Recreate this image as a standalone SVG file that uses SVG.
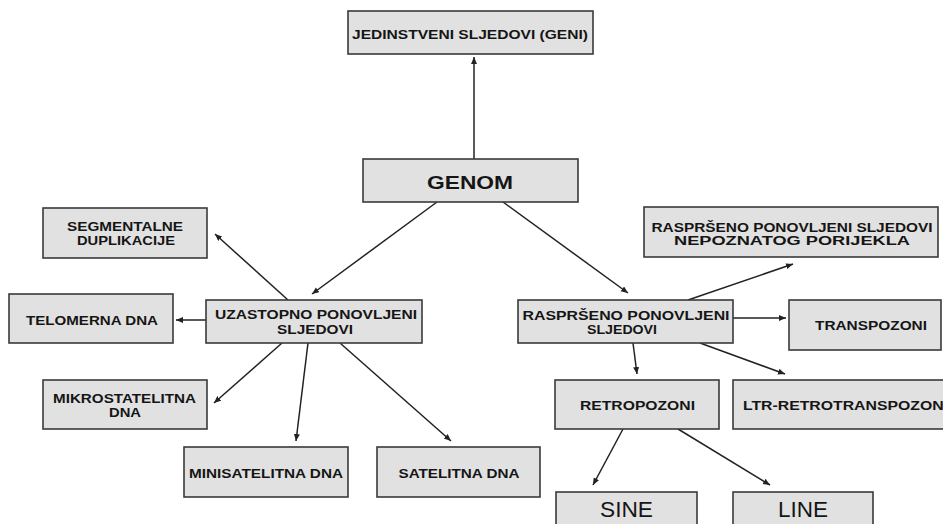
<svg xmlns="http://www.w3.org/2000/svg" width="943" height="524" viewBox="0 0 943 524">
<style>
.box{fill:#e1e1e1;stroke:#3a3a3a;stroke-width:1.6}
.t{font-family:"Liberation Sans",Arial,sans-serif;font-size:12px;font-weight:bold;fill:#151515;text-anchor:middle}
.big{font-family:"Liberation Sans",Arial,sans-serif;font-size:18px;font-weight:bold;fill:#151515;text-anchor:middle}
.huge{font-family:"Liberation Sans",Arial,sans-serif;font-size:22px;fill:#151515;text-anchor:middle}
.c line{stroke:#222;stroke-width:1.5;marker-end:url(#ah)}
</style>
<defs>
<marker id="ah" markerUnits="userSpaceOnUse" markerWidth="8" markerHeight="7" refX="7" refY="3" orient="auto">
<path d="M0,0 L7,3 L0,6 z" fill="#222"/>
</marker>
</defs>
<rect width="943" height="524" fill="#fff"/>
<g class="c" id="connectors">
<line x1="474" y1="159" x2="474" y2="57"/>
<line x1="437" y1="202" x2="312" y2="294"/>
<line x1="503" y1="202" x2="628" y2="293"/>
<line x1="288" y1="300" x2="215" y2="234"/>
<line x1="206" y1="320" x2="176" y2="320"/>
<line x1="282" y1="343" x2="214" y2="403"/>
<line x1="308" y1="343" x2="296" y2="441"/>
<line x1="340" y1="343" x2="451" y2="441"/>
<line x1="688" y1="300" x2="793" y2="264"/>
<line x1="733" y1="318" x2="786" y2="318"/>
<line x1="633" y1="343" x2="637" y2="374"/>
<line x1="700" y1="343" x2="785" y2="374"/>
<line x1="623" y1="429" x2="593" y2="485"/>
<line x1="678" y1="429" x2="770" y2="485"/>
</g>
<g id="jedinstveni"><rect class="box" x="348" y="11" width="245" height="43"/><text class="t" x="470" y="38.5" textLength="236" lengthAdjust="spacingAndGlyphs">JEDINSTVENI SLJEDOVI (GENI)</text></g>
<g id="genom"><rect class="box" x="363" y="159" width="215" height="43"/><text class="big" x="470" y="188.5" textLength="86" lengthAdjust="spacingAndGlyphs">GENOM</text></g>
<g id="segmentalne"><rect class="box" x="43" y="208" width="164" height="50"/><text class="t" x="125" y="231" textLength="116" lengthAdjust="spacingAndGlyphs">SEGMENTALNE</text><text class="t" x="126" y="245" textLength="98" lengthAdjust="spacingAndGlyphs">DUPLIKACIJE</text></g>
<g id="telomerna"><rect class="box" x="9" y="294" width="164" height="49"/><text class="t" x="92" y="325" textLength="132" lengthAdjust="spacingAndGlyphs">TELOMERNA DNA</text></g>
<g id="uzastopno"><rect class="box" x="206" y="300" width="216" height="43"/><text class="t" x="316" y="319" textLength="202" lengthAdjust="spacingAndGlyphs">UZASTOPNO PONOVLJENI</text><text class="t" x="315" y="334" textLength="76" lengthAdjust="spacingAndGlyphs">SLJEDOVI</text></g>
<g id="rasprseno"><rect class="box" x="518" y="300" width="215" height="43"/><text class="t" x="626" y="320" textLength="207" lengthAdjust="spacingAndGlyphs">RASPRŠENO PONOVLJENI</text><text class="t" x="622" y="334" textLength="70" lengthAdjust="spacingAndGlyphs">SLJEDOVI</text></g>
<g id="nepoznatog"><rect class="box" x="644" y="207" width="294" height="50"/><text class="t" x="792" y="232" textLength="281" lengthAdjust="spacingAndGlyphs">RASPRŠENO PONOVLJENI SLJEDOVI</text><text class="t" x="792" y="245" textLength="236" lengthAdjust="spacingAndGlyphs">NEPOZNATOG PORIJEKLA</text></g>
<g id="transpozoni"><rect class="box" x="789" y="300" width="152" height="50"/><text class="t" x="871" y="330" textLength="112" lengthAdjust="spacingAndGlyphs">TRANSPOZONI</text></g>
<g id="retropozoni"><rect class="box" x="555" y="380" width="164" height="49"/><text class="t" x="637.5" y="410" textLength="115" lengthAdjust="spacingAndGlyphs">RETROPOZONI</text></g>
<g id="ltr"><rect class="box" x="733" y="380" width="220" height="49"/><text class="t" x="845.5" y="410" textLength="205" lengthAdjust="spacingAndGlyphs">LTR-RETROTRANSPOZONI</text></g>
<g id="sine"><rect class="box" x="556" y="492" width="141" height="50"/><text class="huge" x="626.5" y="517" textLength="53" lengthAdjust="spacingAndGlyphs">SINE</text></g>
<g id="line"><rect class="box" x="733" y="492" width="140" height="50"/><text class="huge" x="803" y="517" textLength="50" lengthAdjust="spacingAndGlyphs">LINE</text></g>
<g id="mikro"><rect class="box" x="43" y="380" width="164" height="49"/><text class="t" x="124.5" y="403" textLength="143" lengthAdjust="spacingAndGlyphs">MIKROSTATELITNA</text><text class="t" x="125" y="417" textLength="32" lengthAdjust="spacingAndGlyphs">DNA</text></g>
<g id="mini"><rect class="box" x="184" y="447" width="164" height="50"/><text class="t" x="266" y="477.5" textLength="154" lengthAdjust="spacingAndGlyphs">MINISATELITNA DNA</text></g>
<g id="satelitna"><rect class="box" x="377" y="447" width="163" height="50"/><text class="t" x="459" y="477.5" textLength="121" lengthAdjust="spacingAndGlyphs">SATELITNA DNA</text></g>
</svg>
